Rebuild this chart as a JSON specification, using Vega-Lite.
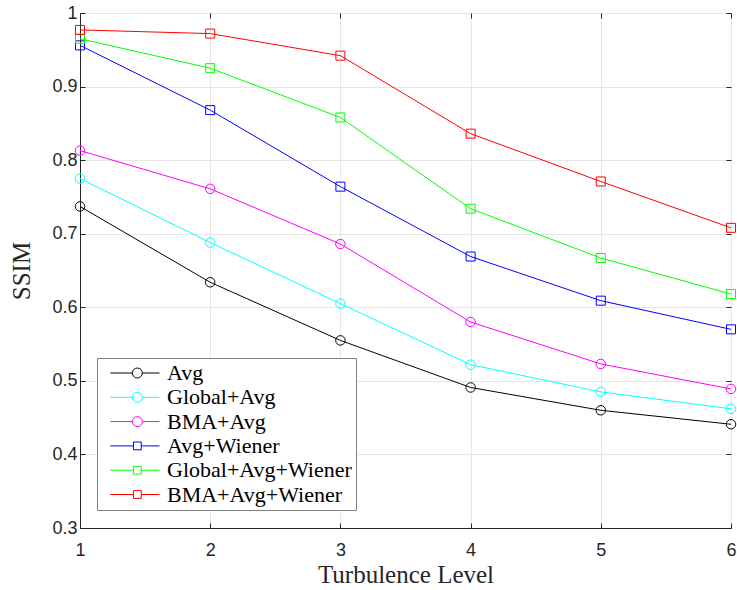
{
  "$schema": "https://vega.github.io/schema/vega-lite/v6.json",
  "width": 651,
  "height": 515,
  "autosize": {"type": "none"},
  "padding": {"left": 80, "top": 13, "right": 6, "bottom": 62},
  "background": "white",
  "data": {"values": [
    {"level": 1, "ssim": 0.737, "series": "Avg"},
    {"level": 2, "ssim": 0.634, "series": "Avg"},
    {"level": 3, "ssim": 0.555, "series": "Avg"},
    {"level": 4, "ssim": 0.491, "series": "Avg"},
    {"level": 5, "ssim": 0.460, "series": "Avg"},
    {"level": 6, "ssim": 0.441, "series": "Avg"},
    {"level": 1, "ssim": 0.775, "series": "Global+Avg"},
    {"level": 2, "ssim": 0.688, "series": "Global+Avg"},
    {"level": 3, "ssim": 0.605, "series": "Global+Avg"},
    {"level": 4, "ssim": 0.522, "series": "Global+Avg"},
    {"level": 5, "ssim": 0.485, "series": "Global+Avg"},
    {"level": 6, "ssim": 0.462, "series": "Global+Avg"},
    {"level": 1, "ssim": 0.813, "series": "BMA+Avg"},
    {"level": 2, "ssim": 0.761, "series": "BMA+Avg"},
    {"level": 3, "ssim": 0.686, "series": "BMA+Avg"},
    {"level": 4, "ssim": 0.580, "series": "BMA+Avg"},
    {"level": 5, "ssim": 0.523, "series": "BMA+Avg"},
    {"level": 6, "ssim": 0.489, "series": "BMA+Avg"},
    {"level": 1, "ssim": 0.956, "series": "Avg+Wiener"},
    {"level": 2, "ssim": 0.868, "series": "Avg+Wiener"},
    {"level": 3, "ssim": 0.764, "series": "Avg+Wiener"},
    {"level": 4, "ssim": 0.669, "series": "Avg+Wiener"},
    {"level": 5, "ssim": 0.609, "series": "Avg+Wiener"},
    {"level": 6, "ssim": 0.570, "series": "Avg+Wiener"},
    {"level": 1, "ssim": 0.965, "series": "Global+Avg+Wiener"},
    {"level": 2, "ssim": 0.925, "series": "Global+Avg+Wiener"},
    {"level": 3, "ssim": 0.858, "series": "Global+Avg+Wiener"},
    {"level": 4, "ssim": 0.734, "series": "Global+Avg+Wiener"},
    {"level": 5, "ssim": 0.667, "series": "Global+Avg+Wiener"},
    {"level": 6, "ssim": 0.618, "series": "Global+Avg+Wiener"},
    {"level": 1, "ssim": 0.977, "series": "BMA+Avg+Wiener"},
    {"level": 2, "ssim": 0.972, "series": "BMA+Avg+Wiener"},
    {"level": 3, "ssim": 0.942, "series": "BMA+Avg+Wiener"},
    {"level": 4, "ssim": 0.836, "series": "BMA+Avg+Wiener"},
    {"level": 5, "ssim": 0.771, "series": "BMA+Avg+Wiener"},
    {"level": 6, "ssim": 0.708, "series": "BMA+Avg+Wiener"}
  ]},
  "layer": [
    {
      "mark": {"type": "point", "filled": false, "size": 144, "strokeWidth": 1, "opacity": 0},
      "encoding": {
        "x": {"field": "level", "type": "quantitative", "scale": {"domain": [1, 6], "nice": false, "zero": false}, "axis": null},
        "y": {"field": "ssim", "type": "quantitative", "scale": {"domain": [0.3, 1], "nice": false, "zero": false}, "axis": null},
        "color": {"field": "series", "type": "nominal",
                  "scale": {"domain": ["Avg", "Global+Avg", "BMA+Avg", "Avg+Wiener", "Global+Avg+Wiener", "BMA+Avg+Wiener"],
                            "range": ["#000000", "#00ffff", "#ff00ff", "#0000ff", "#00ff00", "#ff0000"]},
                  "legend": {"title": null, "orient": "none", "legendX": 17, "legendY": 345}},
        "shape": {"field": "series", "type": "nominal",
                  "scale": {"domain": ["Avg", "Global+Avg", "BMA+Avg", "Avg+Wiener", "Global+Avg+Wiener", "BMA+Avg+Wiener"],
                            "range": [
                              "M-0.33,0H4.07M6.07,0H9.5M4.07,0A1,1 0 1,0 6.07,0A1,1 0 1,0 4.07,0",
                              "M-0.33,0H4.07M6.07,0H9.5M4.07,0A1,1 0 1,0 6.07,0A1,1 0 1,0 4.07,0",
                              "M-0.33,0H4.07M6.07,0H9.5M4.07,0A1,1 0 1,0 6.07,0A1,1 0 1,0 4.07,0",
                              "M-0.33,0H4.29M5.85,0H9.5M4.29,-0.78H5.85V0.78H4.29Z",
                              "M-0.33,0H4.29M5.85,0H9.5M4.29,-0.78H5.85V0.78H4.29Z",
                              "M-0.33,0H4.29M5.85,0H9.5M4.29,-0.78H5.85V0.78H4.29Z"
                            ]},
                  "legend": {"title": null, "orient": "none", "legendX": 17, "legendY": 345}}
      }
    },
    {
      "mark": {"type": "line", "strokeWidth": 1},
      "encoding": {
        "x": {"field": "level", "type": "quantitative",
              "axis": {"orient": "top", "labels": false, "title": null, "grid": false, "domain": false, "values": [1,2,3,4,5,6], "tickSize": -5, "tickColor": "#262626"}},
        "y": {"field": "ssim", "type": "quantitative",
              "axis": {"orient": "right", "labels": false, "title": null, "grid": false, "domain": false, "values": [0.3,0.4,0.5,0.6,0.7,0.8,0.9,1], "tickSize": -5, "tickColor": "#262626"}},
        "color": {"field": "series", "type": "nominal"}
      }
    },
    {
      "transform": [{"filter": {"field": "series", "oneOf": ["Avg", "Global+Avg", "BMA+Avg"]}}],
      "mark": {"type": "point", "shape": "circle", "filled": false, "size": 90, "strokeWidth": 1, "opacity": 1},
      "encoding": {
        "x": {"field": "level", "type": "quantitative",
              "axis": {"orient": "bottom", "title": "Turbulence Level", "values": [1,2,3,4,5,6], "grid": true, "gridColor": "#e6e6e6",
                       "tickSize": -5, "tickColor": "#262626", "domainColor": "#262626",
                       "labelFont": "Liberation Sans", "labelFontSize": 18, "labelColor": "#262626", "labelPadding": 18, "labelFlush": false,
                       "titleFont": "Liberation Serif", "titleFontSize": 25, "titleFontWeight": "normal", "titleColor": "#262626", "titlePadding": 3}},
        "y": {"field": "ssim", "type": "quantitative",
              "axis": {"orient": "left", "title": "SSIM", "values": [0.3,0.4,0.5,0.6,0.7,0.8,0.9,1], "format": "~g", "grid": true, "gridColor": "#e6e6e6",
                       "tickSize": -5, "tickColor": "#262626", "domainColor": "#262626",
                       "labelFont": "Liberation Sans", "labelFontSize": 18, "labelColor": "#262626", "labelPadding": 8, "labelFlush": false,
                       "titleFont": "Liberation Serif", "titleFontSize": 25, "titleFontWeight": "normal", "titleColor": "#262626", "titlePadding": 17}},
        "color": {"field": "series", "type": "nominal"}
      }
    },
    {
      "transform": [{"filter": {"field": "series", "oneOf": ["Avg+Wiener", "Global+Avg+Wiener", "BMA+Avg+Wiener"]}}],
      "mark": {"type": "point", "shape": "square", "filled": false, "size": 81, "strokeWidth": 1, "opacity": 1},
      "encoding": {
        "x": {"field": "level", "type": "quantitative", "axis": null},
        "y": {"field": "ssim", "type": "quantitative", "axis": null},
        "color": {"field": "series", "type": "nominal"}
      }
    }
  ],
  "resolve": {"axis": {"x": "independent", "y": "independent"}},
  "config": {
    "view": {"stroke": "#262626", "strokeWidth": 1},
    "legend": {"padding": 4, "rowPadding": 2.3, "labelOffset": 44, "strokeColor": "#808080", "fillColor": "white",
               "labelFont": "Liberation Serif", "labelFontSize": 22, "labelColor": "#000000", "symbolStrokeWidth": 1, "labelLimit": 400}
  }
}
